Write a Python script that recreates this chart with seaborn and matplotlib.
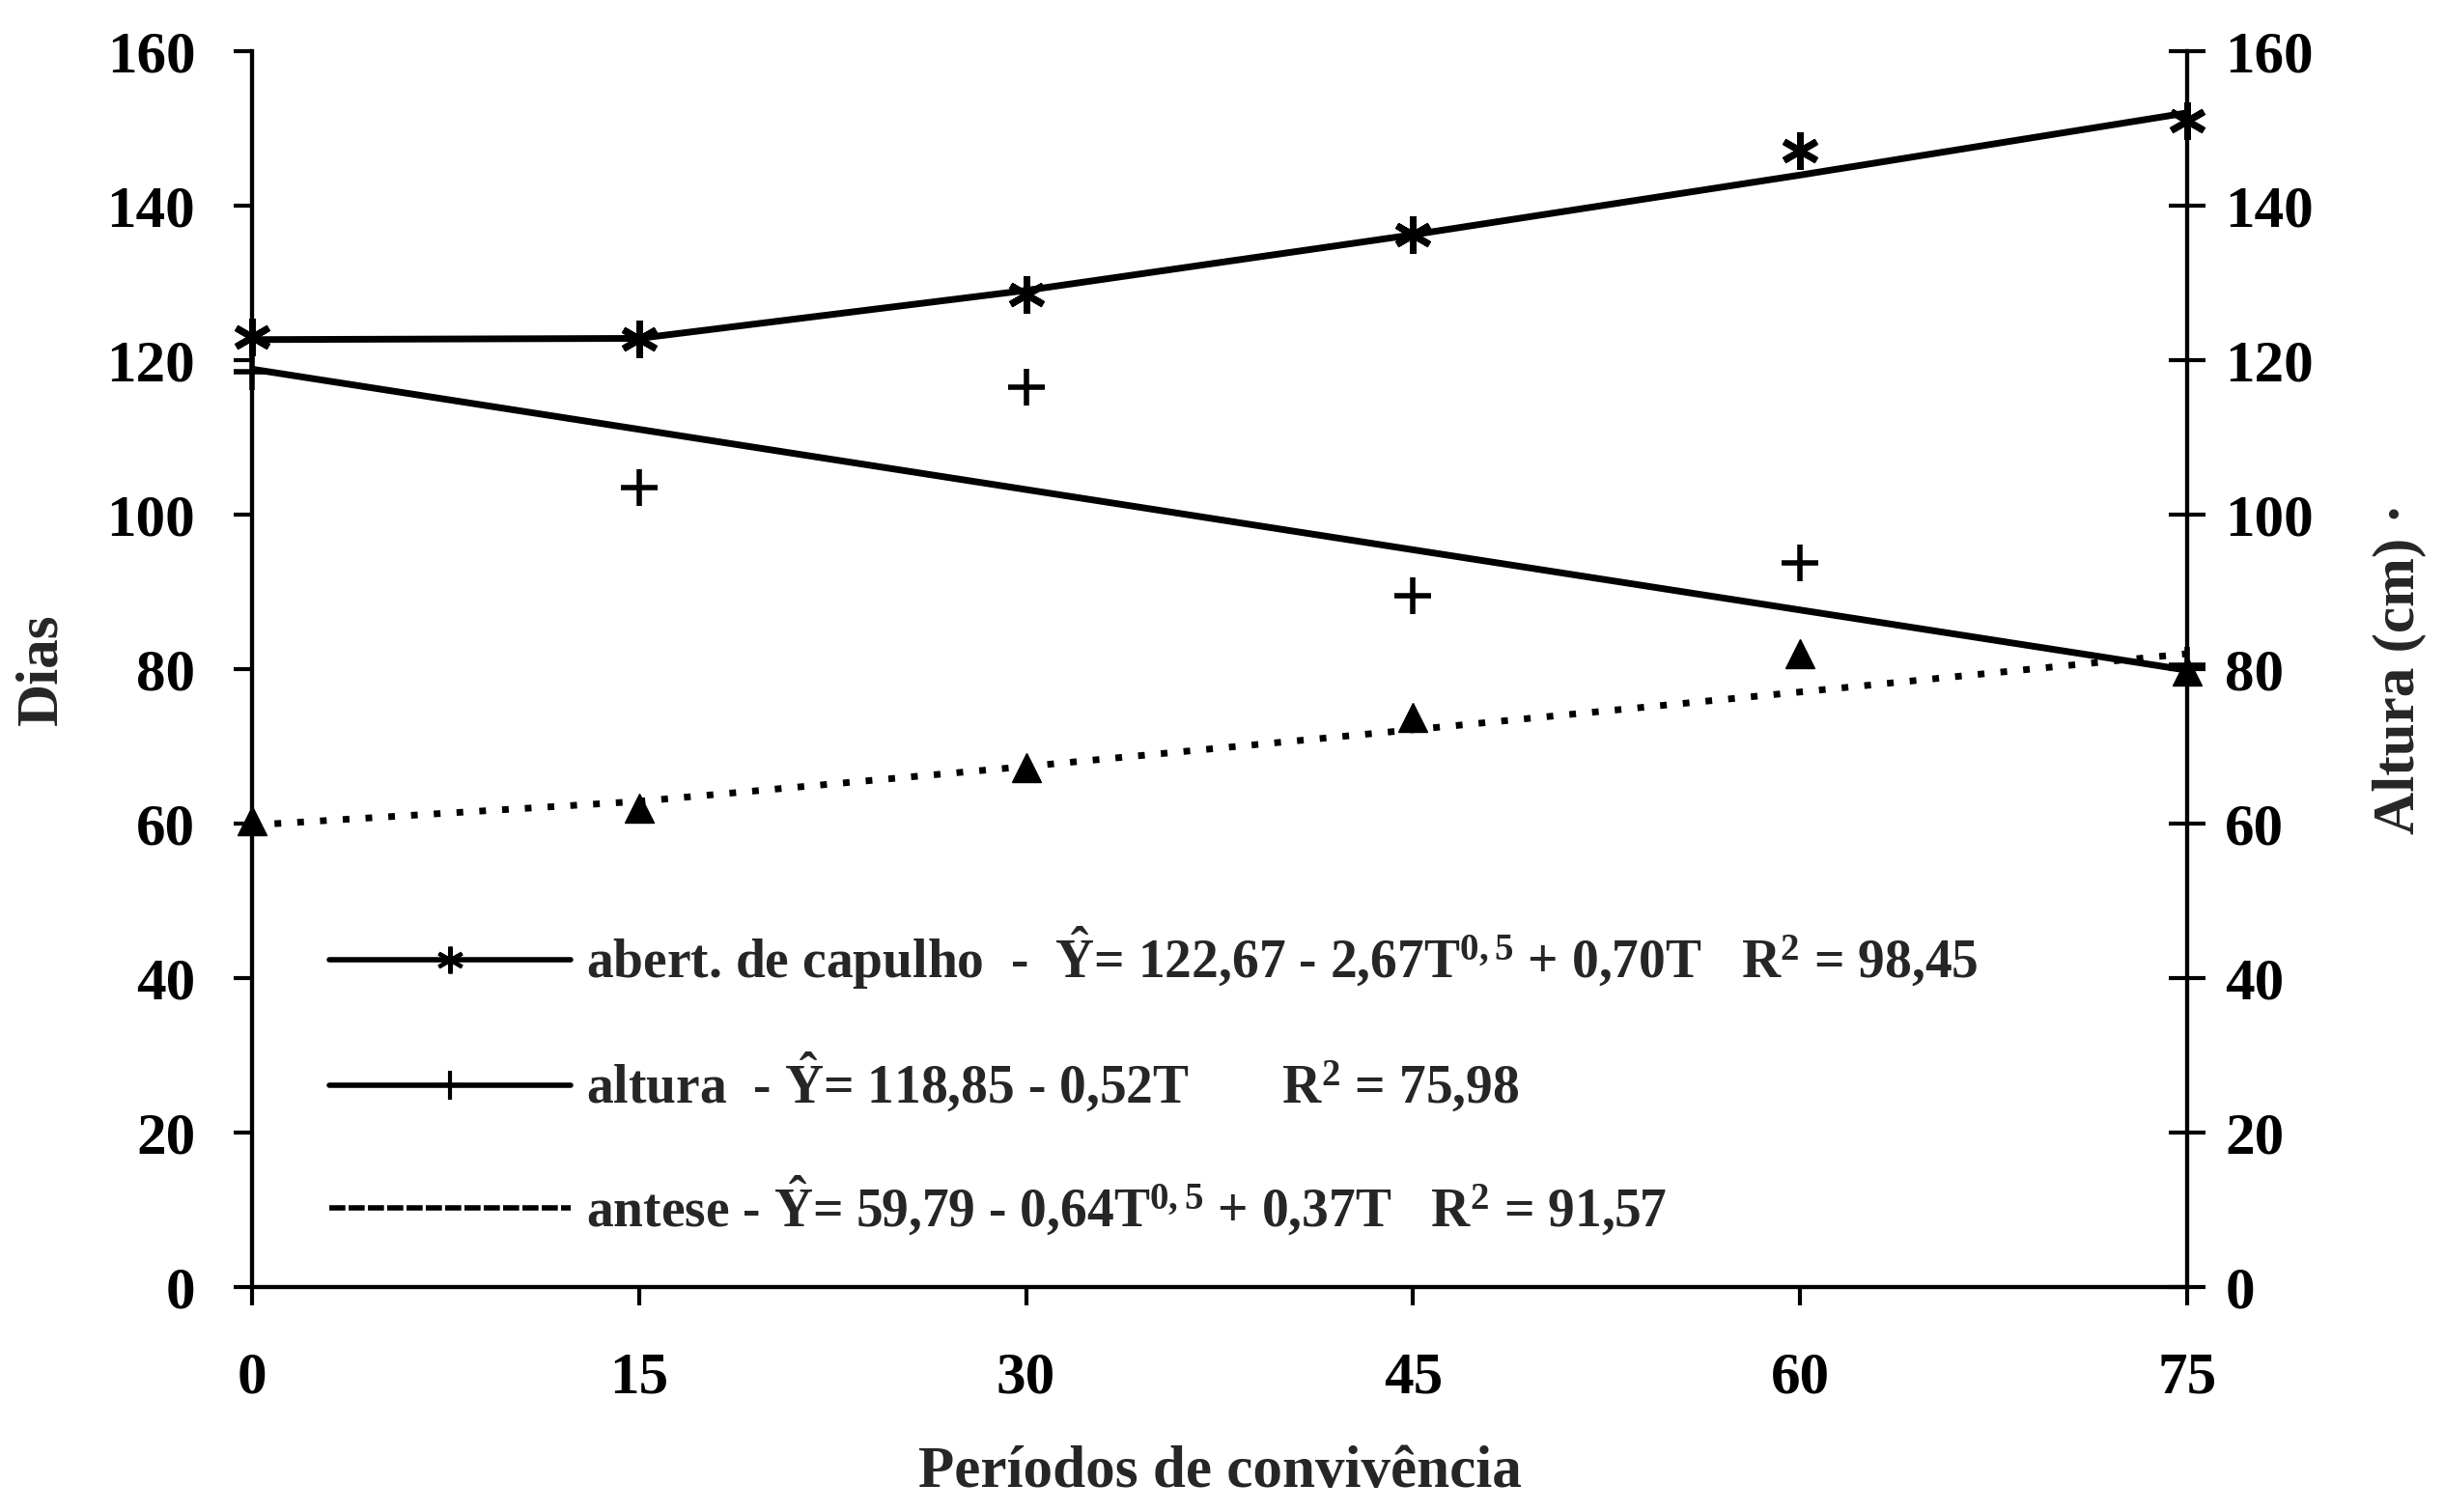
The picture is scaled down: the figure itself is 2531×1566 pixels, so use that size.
import numpy as np
import pandas as pd
import matplotlib
matplotlib.use('Agg')
import matplotlib.pyplot as plt
from matplotlib.lines import Line2D
import seaborn as sns

# --- dados ---
periodos = [0, 15, 30, 45, 60, 75]
abert_capulho = [123.0, 122.8, 128.5, 136.3, 147.2, 151.0]
altura = [118.5, 103.5, 116.5, 89.5, 93.8, 80.5]
antese = [60.3, 62.0, 67.2, 73.8, 82.0, 79.8]

# coeficientes das regressões (legenda)
coef_abert = [122.67, -2.67, 0.70]   # a + b*T^0.5 + c*T
coef_altura = [118.85, -0.52]        # a + b*T
coef_antese = [59.79, -0.64, 0.37]   # a + b*T^0.5 + c*T

yticks = [0, 20, 40, 60, 80, 100, 120, 140, 160]

sns.set_theme(style='ticks')
plt.rcParams['font.family'] = ['Liberation Serif', 'DejaVu Serif']
plt.rcParams['font.weight'] = 'bold'
plt.rcParams['mathtext.fontset'] = 'custom'
plt.rcParams['mathtext.rm'] = 'Liberation Serif:bold'
plt.rcParams['mathtext.it'] = 'Liberation Serif:bold'
plt.rcParams['mathtext.bf'] = 'Liberation Serif:bold'

fig = plt.figure(figsize=(25.31, 15.66), dpi=100)
ax = fig.add_axes([0.103, 0.149, 0.792, 0.817])
ax2 = ax.twinx()

# valores estimados pelas equações em cada período
T = np.array(periodos, dtype=float)
fit = pd.DataFrame({
    'T': T,
    'abert': coef_abert[0] + coef_abert[1] * np.sqrt(T) + coef_abert[2] * T,
    'altura': coef_altura[0] + coef_altura[1] * T,
    'antese': coef_antese[0] + coef_antese[1] * np.sqrt(T) + coef_antese[2] * T,
})
pts = pd.DataFrame({'T': periodos, 'abert': abert_capulho,
                    'altura': altura, 'antese': antese})

lw = 5
sns.lineplot(data=fit, x='T', y='abert', ax=ax, color='black', lw=lw)
sns.lineplot(data=fit, x='T', y='antese', ax=ax, color='black', lw=lw)
ax.lines[-1].set_dashes((1.0, 2.4))
sns.lineplot(data=fit, x='T', y='altura', ax=ax2, color='black', lw=lw)

ast = (6, 2, 0)
ax.plot(pts['T'], pts['abert'], ls='none', marker=ast, ms=28, mew=5,
        color='black', clip_on=False, zorder=5)
ax.plot(pts['T'], pts['antese'], ls='none', marker='^', ms=22,
        color='black', clip_on=False, zorder=5)
ax2.plot(pts['T'], pts['altura'], ls='none', marker='+', ms=28, mew=4,
         color='black', clip_on=False, zorder=5)

for a in (ax, ax2):
    a.set_xlim(0, 75)
    a.set_ylim(0, 160)
    a.set_yticks(yticks)
    a.spines['top'].set_visible(False)
    for s in a.spines.values():
        s.set_linewidth(3)
        s.set_color('black')

ax.set_xticks(periodos)
ax.tick_params(axis='both', labelsize=44, width=3, length=14, direction='out',
               colors='black', pad=28)
ax.tick_params(axis='x', pad=34)
ax2.tick_params(axis='y', labelsize=44, width=3, length=28, direction='inout',
                colors='black', pad=14)

ax.set_xlabel('Períodos de convivência', fontsize=44, fontweight='bold', labelpad=30)
ax.set_ylabel('Dias', fontsize=44, fontweight='bold', labelpad=28)
ax2.set_ylabel('Altura (cm) ·', fontsize=44, fontweight='bold', labelpad=44)

handles = [
    Line2D([], [], color='black', lw=4, marker=ast, ms=20, mew=3),
    Line2D([], [], color='black', lw=4, marker='+', ms=22, mew=3),
    Line2D([], [], color='black', lw=4, ls=(0, (3, 0.6))),
]
labels = [
    r'abert. de capulho  -  $\hat{\mathrm{Y}}$= 122,67 - 2,67T$^{0,5}$ + 0,70T   R$^2$ = 98,45',
    r'altura  - $\hat{\mathrm{Y}}$= 118,85 - 0,52T       R$^2$ = 75,98',
    r'antese - $\hat{\mathrm{Y}}$= 59,79 - 0,64T$^{0,5}$ + 0,37T   R$^2$ = 91,57',
]
ax.legend(handles, labels, loc='lower left', bbox_to_anchor=(0.015, 0.0),
          frameon=False, fontsize=40, handlelength=4.5, labelspacing=1.1,
          handletextpad=0.3)

plt.savefig('out.png', dpi=100)
plt.close()
